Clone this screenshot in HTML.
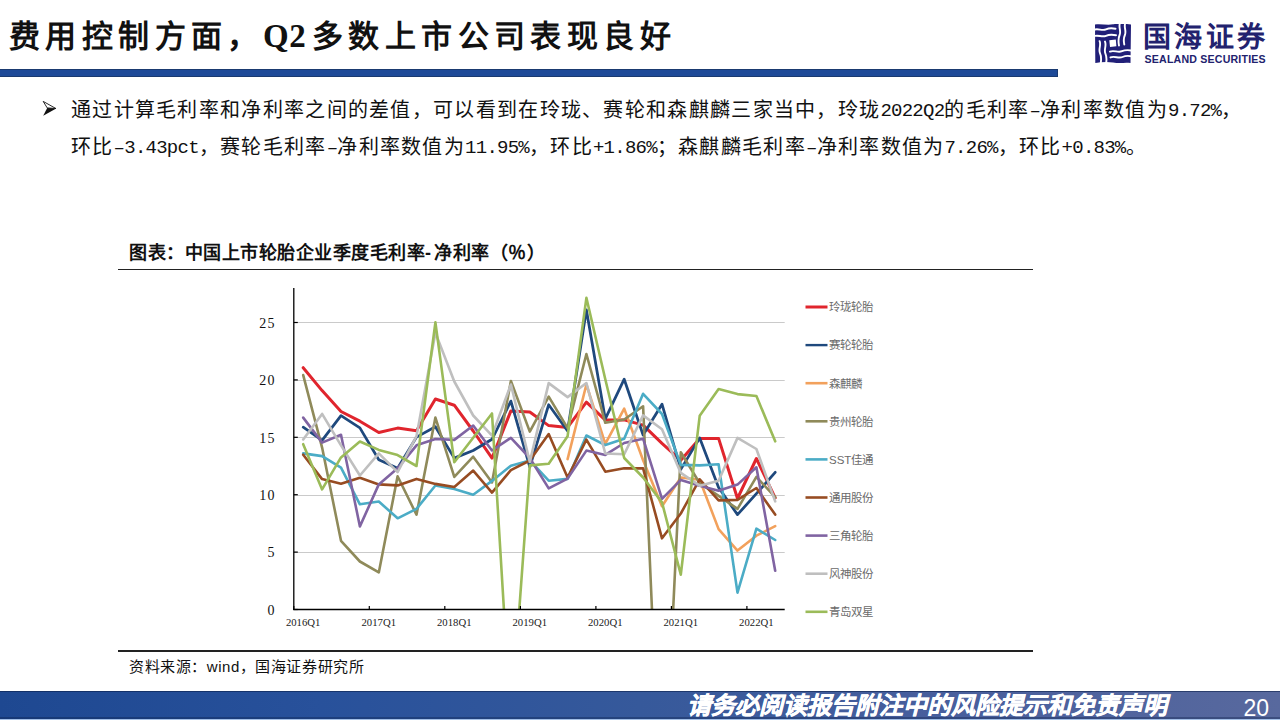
<!DOCTYPE html>
<html lang="zh-CN"><head><meta charset="utf-8">
<style>
*{margin:0;padding:0;box-sizing:border-box}
html,body{width:1280px;height:720px;overflow:hidden;background:#fff}
body{position:relative;font-family:"Liberation Sans",sans-serif;color:#000}
.abs{position:absolute;white-space:nowrap}
.title{top:17px;font-size:31px;font-weight:bold;letter-spacing:5.4px;line-height:40px;color:#111}
.title.q{font-family:"Liberation Serif",serif;font-size:33px;letter-spacing:0.5px;top:16px}
#tbar{left:0;top:69px;width:1058px;height:8px;background:#1e4a98;border-top:1px solid #1a3a70;border-bottom:1px solid #1a3a70;border-right:1px solid #1a3a70}
#logo{left:1095px;top:24px;width:36px;height:39px}
#lcn{left:1143px;top:22px;font-size:28px;font-weight:900;color:#22226e;letter-spacing:3.4px;line-height:32px}
#len{left:1144.5px;top:53px;font-size:10.6px;font-weight:bold;color:#22226e;line-height:12px;letter-spacing:0.2px}
.body{font-family:"Liberation Sans",sans-serif;font-size:20px;letter-spacing:1.3px;color:#111;line-height:24px;font-weight:300;text-spacing-trim:space-all}
.body .lt{font-family:"Liberation Mono",monospace;font-size:19px;letter-spacing:-0.75px;font-weight:normal;position:relative;top:-1.5px}
#b1{left:71px;top:98px}
#b2{left:71px;top:135px}
#arrow{left:40px;top:99px}
#ctitle{left:129px;top:242px;font-size:18px;font-weight:bold;letter-spacing:0.5px;line-height:22px;color:#111;text-spacing-trim:space-all}
.hr{position:absolute;left:118px;width:915px;height:1.3px;background:#222}
#src{left:129px;top:658px;font-size:15px;line-height:18px;color:#111;font-weight:300;letter-spacing:0.55px;text-spacing-trim:space-all}
#foot{left:0;top:691px;width:1280px;height:29px;background:linear-gradient(90deg,#1e4891 0%,#28519b 25%,#36599b 50%,#495f9d 75%,#58699e 100%)}
#foottxt{left:687px;top:691px;font-size:24px;font-weight:bold;font-style:italic;color:#fff;line-height:30px;letter-spacing:0px;-webkit-text-stroke:0.5px #fff}
.yl{font-family:"Liberation Serif",serif;font-size:14px;letter-spacing:1.3px;fill:#111}
.xl{font-family:"Liberation Serif",serif;font-size:11px;fill:#222}
.lg{font-family:"Liberation Sans",sans-serif;font-size:11.5px;fill:#6a6a6a;font-weight:300}
#pg{left:1243.5px;top:693px;font-size:23px;color:#fff;line-height:30px}
</style></head><body>
<div class="abs title" style="left:9px">费用控制方面，</div><div class="abs title q" style="left:263px">Q2</div><div class="abs title" style="left:312px">多数上市公司表现良好</div>
<div class="abs" id="tbar"></div>
<svg class="abs" id="logo" viewBox="0 0 36 39"><path d="M0 0.5 C6 -0.5 12 1.5 18 0.3 S30 -0.3 36 0.5 L35.5 39 C30 38 24 39.8 18 38.6 S6 38.2 0.3 39 Z" fill="#211f78"/>
<g fill="none" stroke="#fff" stroke-width="1.9" stroke-linecap="round">
<path d="M-1 5.8 C3 4 7 7.2 11 5.4 S17 4 20.5 4.8"/>
<path d="M-1 12.2 C3 10.4 7 13.6 11 11.8 S17 10.4 21 11.2"/>
<path d="M25 -1 C23.2 3 26.4 7 24.6 11 S23.2 17 24 21.5"/>
<path d="M30.3 -1 C28.5 3 31.7 7 29.9 11 S28.5 17 29.3 20.5"/>
<path d="M4.6 17.2 C6.4 21.2 3.2 25.2 5 29.2 S6.4 35 5.6 40"/>
<path d="M10 17.6 C11.8 21.6 8.6 25.6 10.4 29.6 S11.8 35 11 40"/>
<path d="M15 27.6 C19 25.8 23 29 27 27.2 S33 25.8 37 26.6"/>
<path d="M15.5 33.4 C19.5 31.6 23.5 34.8 27.5 33 S33.5 31.6 37 32.4"/>
</g>
<path d="M14.3 16.2 L20.8 15.4 L21.4 22.2 L15 22.9 Z" fill="#fff"/>
</svg>
<div class="abs" id="lcn">国海证券</div>
<div class="abs" id="len">SEALAND SECURITIES</div>

<svg class="abs" id="arrow" width="20" height="20" viewBox="0 0 20 20"><path d="M3.2 2.4 L15.9 9.5 L7.2 8.9 Z" fill="none" stroke="#111" stroke-width="0.9" stroke-linejoin="miter"/><path d="M7.2 8.9 L16.2 9.6 L3.2 16.7 Z" fill="#111"/></svg>
<div class="abs body" id="b1">通过计算毛利率和净利率之间的差值，可以看到在玲珑、赛轮和森麒麟三家当中，玲珑<span class="lt">2022Q2</span>的毛利率<span class="lt">–</span>净利率数值为<span class="lt">9.72%</span>，</div>
<div class="abs body" id="b2">环比<span class="lt">–3.43pct</span>，赛轮毛利率<span class="lt">–</span>净利率数值为<span class="lt">11.95%</span>，环比<span class="lt">+1.86%</span>；森麒麟毛利率<span class="lt">–</span>净利率数值为<span class="lt">7.26%</span>，环比<span class="lt">+0.83%</span>。</div>

<div class="abs" id="ctitle">图表：中国上市轮胎企业季度毛利率<span style="letter-spacing:3.2px">-</span>净利率（％）</div>
<div class="hr" style="top:269px"></div>
<div class="hr" style="top:650.4px"></div>
<div class="abs" id="src">资料来源：wind，国海证券研究所</div>

<!--CHART--><svg class="abs" style="left:0;top:0" width="1280" height="720" viewBox="0 0 1280 720">
<defs><clipPath id="pc"><rect x="293.8" y="286.1" width="492.9" height="323.4"/></clipPath></defs>
<line x1="293.8" y1="322.5" x2="784.7" y2="322.5" stroke="#cacaca" stroke-width="1"/>
<line x1="293.8" y1="380.5" x2="784.7" y2="380.5" stroke="#cacaca" stroke-width="1"/>
<line x1="293.8" y1="437.5" x2="784.7" y2="437.5" stroke="#cacaca" stroke-width="1"/>
<line x1="293.8" y1="495.5" x2="784.7" y2="495.5" stroke="#cacaca" stroke-width="1"/>
<line x1="293.8" y1="552.5" x2="784.7" y2="552.5" stroke="#cacaca" stroke-width="1"/>
<g clip-path="url(#pc)" fill="none" stroke-width="2.6" stroke-linejoin="round" stroke-linecap="round">
<polyline stroke="#e0252d" stroke-width="3.0" points="303.2,367.7 322.1,390.6 341.0,411.5 359.9,421.2 378.8,432.5 397.6,428.1 416.5,430.8 435.4,399.0 454.3,405.2 473.2,431.0 492.0,458.1 510.9,410.9 529.8,412.0 548.7,425.6 567.6,427.4 586.4,402.1 605.3,420.1 624.2,419.9 643.1,425.1 662.0,443.3 680.8,460.3 699.7,438.4 718.6,438.4 737.5,498.5 756.4,458.5 775.2,497.9"/>
<polyline stroke="#1f497d" stroke-width="2.75" points="303.2,427.2 322.1,440.4 341.0,415.7 359.9,427.9 378.8,459.7 397.6,468.3 416.5,437.1 435.4,426.7 454.3,458.1 473.2,450.5 492.0,439.3 510.9,401.1 529.8,467.1 548.7,404.7 567.6,431.0 586.4,309.9 605.3,418.9 624.2,379.2 643.1,435.0 662.0,404.2 680.8,469.4 699.7,437.9 718.6,487.5 737.5,514.6 756.4,493.7 775.2,472.3"/>
<polyline stroke="#f2a15c" stroke-width="2.6" points="567.6,459.1 586.4,384.5 605.3,443.8 624.2,408.6 643.1,460.3 662.0,506.2 680.8,477.5 699.7,479.8 718.6,529.1 737.5,550.6 756.4,535.7 775.2,526.2"/>
<polyline stroke="#8f8a5a" stroke-width="2.6" points="303.2,375.1 322.1,447.6 341.0,540.8 359.9,561.5 378.8,572.4 397.6,476.3 416.5,514.7 435.4,417.6 454.3,476.9 473.2,456.7 492.0,482.4 510.9,381.0 529.8,431.6 548.7,396.7 567.6,428.1 586.4,354.0 605.3,422.8 624.2,419.5 643.1,406.3 662.0,839.1 680.8,452.2 699.7,483.2 718.6,495.8 737.5,508.9 756.4,476.9 775.2,497.2"/>
<polyline stroke="#4bacc6" stroke-width="2.6" points="303.2,453.4 322.1,456.1 341.0,467.7 359.9,504.3 378.8,501.5 397.6,518.3 416.5,508.9 435.4,485.5 454.3,489.0 473.2,494.7 492.0,480.9 510.9,465.7 529.8,460.5 548.7,480.7 567.6,478.9 586.4,435.5 605.3,445.1 624.2,438.7 643.1,393.8 662.0,414.0 680.8,464.9 699.7,465.4 718.6,464.3 737.5,592.6 756.4,528.7 775.2,540.0"/>
<polyline stroke="#974c22" stroke-width="2.6" points="303.2,454.7 322.1,479.1 341.0,483.8 359.9,477.7 378.8,484.4 397.6,485.4 416.5,478.9 435.4,483.9 454.3,487.0 473.2,470.6 492.0,492.6 510.9,470.1 529.8,460.5 548.7,434.0 567.6,477.5 586.4,439.6 605.3,471.7 624.2,468.3 643.1,468.4 662.0,538.3 680.8,513.5 699.7,479.4 718.6,500.4 737.5,499.9 756.4,488.0 775.2,514.6"/>
<polyline stroke="#8064a2" stroke-width="2.6" points="303.2,417.6 322.1,442.6 341.0,434.8 359.9,526.4 378.8,484.4 397.6,468.3 416.5,445.3 435.4,439.0 454.3,439.9 473.2,425.5 492.0,450.5 510.9,437.8 529.8,458.0 548.7,488.4 567.6,478.6 586.4,450.6 605.3,454.9 624.2,443.0 643.1,438.7 662.0,498.8 680.8,479.9 699.7,485.7 718.6,490.7 737.5,484.6 756.4,467.3 775.2,570.8"/>
<polyline stroke="#bfbfbf" stroke-width="2.6" points="303.2,439.5 322.1,413.9 341.0,445.3 359.9,475.5 378.8,453.4 397.6,472.1 416.5,436.2 435.4,332.8 454.3,381.5 473.2,415.5 492.0,435.6 510.9,384.5 529.8,461.9 548.7,383.1 567.6,397.1 586.4,383.0 605.3,453.5 624.2,454.3 643.1,415.4 662.0,429.3 680.8,472.9 699.7,485.7 718.6,480.7 737.5,437.9 756.4,449.0 775.2,501.4"/>
<polyline stroke="#9bbb59" stroke-width="2.6" points="303.2,444.2 322.1,489.4 341.0,457.4 359.9,441.5 378.8,449.9 397.6,455.1 416.5,466.0 435.4,322.3 454.3,462.3 473.2,437.8 492.0,413.5 510.9,724.3 529.8,465.4 548.7,463.7 567.6,436.2 586.4,297.8 605.3,379.2 624.2,458.0 643.1,477.5 662.0,502.4 680.8,574.7 699.7,415.8 718.6,389.1 737.5,394.1 756.4,396.0 775.2,441.3"/>
</g>
<line x1="293.8" y1="288.1" x2="293.8" y2="610.1" stroke="#000" stroke-width="1.3"/>
<line x1="293.2" y1="609.5" x2="784.7" y2="609.5" stroke="#000" stroke-width="1.3"/>
<line x1="293.8" y1="609.5" x2="297.8" y2="609.5" stroke="#000" stroke-width="1.2"/>
<line x1="293.8" y1="552.1" x2="297.8" y2="552.1" stroke="#000" stroke-width="1.2"/>
<line x1="293.8" y1="494.7" x2="297.8" y2="494.7" stroke="#000" stroke-width="1.2"/>
<line x1="293.8" y1="437.3" x2="297.8" y2="437.3" stroke="#000" stroke-width="1.2"/>
<line x1="293.8" y1="379.9" x2="297.8" y2="379.9" stroke="#000" stroke-width="1.2"/>
<line x1="293.8" y1="322.5" x2="297.8" y2="322.5" stroke="#000" stroke-width="1.2"/>
<line x1="293.8" y1="609.5" x2="293.8" y2="606.0" stroke="#000" stroke-width="1.2"/>
<line x1="369.3" y1="609.5" x2="369.3" y2="606.0" stroke="#000" stroke-width="1.2"/>
<line x1="444.8" y1="609.5" x2="444.8" y2="606.0" stroke="#000" stroke-width="1.2"/>
<line x1="520.4" y1="609.5" x2="520.4" y2="606.0" stroke="#000" stroke-width="1.2"/>
<line x1="595.9" y1="609.5" x2="595.9" y2="606.0" stroke="#000" stroke-width="1.2"/>
<line x1="671.4" y1="609.5" x2="671.4" y2="606.0" stroke="#000" stroke-width="1.2"/>
<line x1="746.9" y1="609.5" x2="746.9" y2="606.0" stroke="#000" stroke-width="1.2"/>
<text x="275.8" y="614.8" text-anchor="end" class="yl">0</text>
<text x="275.8" y="557.4" text-anchor="end" class="yl">5</text>
<text x="275.8" y="500.0" text-anchor="end" class="yl">10</text>
<text x="275.8" y="442.6" text-anchor="end" class="yl">15</text>
<text x="275.8" y="385.2" text-anchor="end" class="yl">20</text>
<text x="275.8" y="327.8" text-anchor="end" class="yl">25</text>
<text x="285.9" y="625.8" class="xl" textLength="34.5" lengthAdjust="spacingAndGlyphs">2016Q1</text>
<text x="361.5" y="625.8" class="xl" textLength="34.5" lengthAdjust="spacingAndGlyphs">2017Q1</text>
<text x="437.0" y="625.8" class="xl" textLength="34.5" lengthAdjust="spacingAndGlyphs">2018Q1</text>
<text x="512.5" y="625.8" class="xl" textLength="34.5" lengthAdjust="spacingAndGlyphs">2019Q1</text>
<text x="588.0" y="625.8" class="xl" textLength="34.5" lengthAdjust="spacingAndGlyphs">2020Q1</text>
<text x="663.5" y="625.8" class="xl" textLength="34.5" lengthAdjust="spacingAndGlyphs">2021Q1</text>
<text x="739.1" y="625.8" class="xl" textLength="34.5" lengthAdjust="spacingAndGlyphs">2022Q1</text>
<line x1="805.5" y1="307.0" x2="827.5" y2="307.0" stroke="#e0252d" stroke-width="3.0"/>
<text x="829" y="311.3" class="lg">玲珑轮胎</text>
<line x1="805.5" y1="345.1" x2="827.5" y2="345.1" stroke="#1f497d" stroke-width="2.4"/>
<text x="829" y="349.4" class="lg">赛轮轮胎</text>
<line x1="805.5" y1="383.2" x2="827.5" y2="383.2" stroke="#f2a15c" stroke-width="2.6"/>
<text x="829" y="387.5" class="lg">森麒麟</text>
<line x1="805.5" y1="421.3" x2="827.5" y2="421.3" stroke="#8f8a5a" stroke-width="2.6"/>
<text x="829" y="425.6" class="lg">贵州轮胎</text>
<line x1="805.5" y1="459.4" x2="827.5" y2="459.4" stroke="#4bacc6" stroke-width="2.6"/>
<text x="829" y="463.7" class="lg">SST佳通</text>
<line x1="805.5" y1="497.5" x2="827.5" y2="497.5" stroke="#974c22" stroke-width="2.6"/>
<text x="829" y="501.8" class="lg">通用股份</text>
<line x1="805.5" y1="535.6" x2="827.5" y2="535.6" stroke="#8064a2" stroke-width="2.6"/>
<text x="829" y="539.9" class="lg">三角轮胎</text>
<line x1="805.5" y1="573.7" x2="827.5" y2="573.7" stroke="#bfbfbf" stroke-width="2.6"/>
<text x="829" y="578.0" class="lg">风神股份</text>
<line x1="805.5" y1="611.8" x2="827.5" y2="611.8" stroke="#9bbb59" stroke-width="2.6"/>
<text x="829" y="616.1" class="lg">青岛双星</text>
</svg><!--/CHART-->
<div class="abs" id="foot"></div>
<div class="abs" style="left:0;top:691px;width:1280px;height:1px;background:rgba(10,30,70,0.55)"></div>
<div class="abs" style="left:0;top:717px;width:1280px;height:2px;background:rgba(10,30,70,0.35)"></div>
<div class="abs" style="left:0;top:719px;width:1280px;height:1px;background:#a3c0e8"></div>
<div class="abs" id="foottxt">请务必阅读报告附注中的风险提示和免责声明</div>
<div class="abs" id="pg">20</div>
</body></html>
